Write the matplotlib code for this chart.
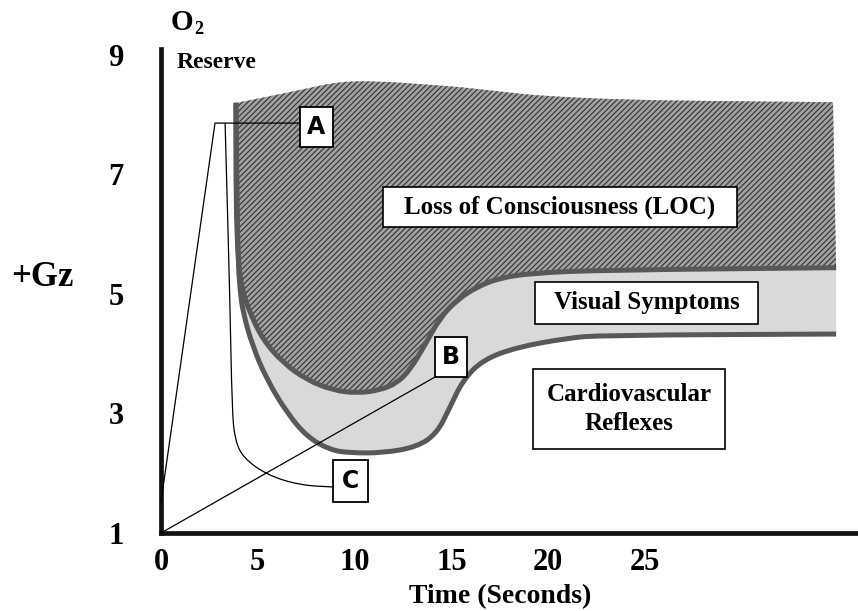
import matplotlib
matplotlib.use("Agg")
import matplotlib.pyplot as plt
from matplotlib.path import Path
from matplotlib.patches import PathPatch, Rectangle

# ---------------- data ----------------
x_ticks = [0, 5, 10, 15, 20, 25]
y_ticks = [1, 3, 5, 7, 9]

# upper threshold curve (LOC boundary)
loc_x = [3.87, 3.87, 3.98, 4.18, 4.60, 5.27, 6.30, 7.54, 8.88, 10.12, 11.31,
         12.19, 12.86, 13.64, 14.41, 15.29, 16.32, 17.51, 19.21, 22.68, 34.87]
loc_y = [8.20, 6.57, 5.57, 5.07, 4.68, 4.23, 3.85, 3.56, 3.39, 3.34, 3.39,
         3.51, 3.73, 4.15, 4.60, 4.90, 5.12, 5.27, 5.35, 5.40, 5.44]

# lower threshold curve (visual symptoms boundary)
vis_x = [3.87, 3.93, 3.98, 4.08, 4.24, 4.75, 5.48, 6.51, 7.54, 8.73, 9.76,
         11.47, 13.22, 14.26, 14.93, 15.60, 16.63, 18.39, 20.97, 22.68, 34.87]
vis_y = [8.20, 6.57, 5.57, 5.07, 4.68, 4.11, 3.56, 3.01, 2.61, 2.39, 2.34,
         2.34, 2.44, 2.67, 3.11, 3.56, 3.90, 4.11, 4.26, 4.31, 4.33]

# top edge of the LOC (hatched) zone
top_x = [3.93, 7.13, 9.25, 11.36, 13.48, 15.60, 17.72, 19.83, 24.07, 28.36, 34.71]
top_y = [8.20, 8.41, 8.56, 8.56, 8.51, 8.46, 8.38, 8.31, 8.25, 8.23, 8.21]

# leader lines
a_lead_x = [7.18, 2.79, 0.0]
a_lead_y = [7.86, 7.86, 1.52]
c_lead_x = [3.31, 3.56, 3.67, 3.82, 4.24, 5.48, 7.18, 8.88]
c_lead_y = [7.86, 4.90, 3.06, 2.56, 2.26, 1.97, 1.80, 1.77]
b_lead_x = [14.15, 0.0]
b_lead_y = [3.61, 1.0]

letters = ["A", "B", "C"]
letter_x = [8.03, 14.99, 9.79]
letter_y = [7.79, 3.95, 1.87]

zone_labels = ["Loss of Consciousness (LOC)", "Visual Symptoms", "Cardiovascular\nReflexes"]
zone_x = [20.61, 25.08, 24.17]
zone_y = [6.45, 4.85, 3.08]

# ---------------- drawing helpers ----------------
PXX = 19.36   # pixels per second
PXY = 59.75   # pixels per G


def smooth_path(xs, ys, start_code=Path.MOVETO):
    """Quadratic-spline path through midpoints, controlled by the points."""
    verts = [(xs[0], ys[0])]
    codes = [start_code]
    n = len(xs)
    if n > 2:
        verts.append(((xs[0] + xs[1]) / 2, (ys[0] + ys[1]) / 2))
        codes.append(Path.LINETO)
        for i in range(1, n - 1):
            verts.append((xs[i], ys[i]))
            verts.append(((xs[i] + xs[i + 1]) / 2, (ys[i] + ys[i + 1]) / 2))
            codes += [Path.CURVE3, Path.CURVE3]
    verts.append((xs[-1], ys[-1]))
    codes.append(Path.LINETO)
    return verts, codes


SERIF = ["Liberation Serif", "DejaVu Serif"]
plt.rcParams["hatch.linewidth"] = 0.9
plt.rcParams["hatch.color"] = "#3a3a3a"

fig = plt.figure(figsize=(8.58, 6.11), dpi=100)
ax = fig.add_axes([161 / 858, 78 / 611, 697 / 858, 484 / 611])
ax.set_xlim(0, 36)
ax.set_ylim(1, 9.1)

# LOC hatched zone
v1, c1 = smooth_path(loc_x, loc_y)
v2, c2 = smooth_path(top_x[::-1], top_y[::-1], start_code=Path.LINETO)
loc_patch = PathPatch(Path(v1 + v2 + [v1[0]], c1 + c2 + [Path.CLOSEPOLY]),
                      facecolor="#a2a2a2", edgecolor="#3a3a3a", hatch="//////",
                      linewidth=0, zorder=1)
ax.add_patch(loc_patch)

# visual symptoms zone
v3, c3 = smooth_path(vis_x[::-1], vis_y[::-1], start_code=Path.LINETO)
vis_patch = PathPatch(Path(v1 + v3 + [v1[0]], c1 + c3 + [Path.CLOSEPOLY]),
                      facecolor="#d9d9d9", edgecolor="none", zorder=1)
ax.add_patch(vis_patch)

# threshold curves
for xs, ys in [(loc_x, loc_y), (vis_x, vis_y)]:
    vv, cc = smooth_path(xs, ys)
    ax.add_patch(PathPatch(Path(vv, cc), facecolor="none", edgecolor="#585858",
                           linewidth=3.6, capstyle="butt", joinstyle="round",
                           zorder=3))

# leader lines
for lx, ly in [(a_lead_x, a_lead_y), (b_lead_x, b_lead_y)]:
    ax.plot(lx, ly, color="black", lw=0.9, zorder=4, clip_on=False)
vv, cc = smooth_path(c_lead_x, c_lead_y)
ax.add_patch(PathPatch(Path(vv, cc), facecolor="none", edgecolor="black",
                       linewidth=0.9, zorder=4))

# letter boxes
letter_w = [33, 32, 35]
letter_h = [40, 40, 42]
for t, lx, ly, w, h in zip(letters, letter_x, letter_y, letter_w, letter_h):
    wd, hd = w / PXX, h / PXY
    ax.add_patch(Rectangle((lx - wd / 2, ly - hd / 2), wd, hd, facecolor="white",
                           edgecolor="black", linewidth=1.3, zorder=5))
    ax.text(lx, ly, t, ha="center", va="center", fontsize=17,
            fontweight="bold", family="DejaVu Sans", zorder=6)

# zone labels
zone_w = [354, 223, 192]
zone_h = [40, 42, 80]
for t, lx, ly, w, h in zip(zone_labels, zone_x, zone_y, zone_w, zone_h):
    wd, hd = w / PXX, h / PXY
    ax.add_patch(Rectangle((lx - wd / 2, ly - hd / 2), wd, hd, facecolor="white",
                           edgecolor="black", linewidth=1.2, zorder=5))
    ax.text(lx, ly, t, ha="center", va="center", fontsize=18,
            fontweight="bold", family=SERIF, zorder=6, linespacing=1.35)

# axes styling
for s in ["top", "right"]:
    ax.spines[s].set_visible(False)
for s in ["left", "bottom"]:
    ax.spines[s].set_linewidth(3.4)
    ax.spines[s].set_color("#111111")
ax.set_xticks(x_ticks)
ax.set_yticks(y_ticks)
ax.set_xticklabels([str(v) for v in x_ticks], family=SERIF,
                   fontweight="bold", fontsize=22)
ax.set_yticklabels([str(v) for v in y_ticks], family=SERIF,
                   fontweight="bold", fontsize=22)
ax.tick_params(axis="x", length=0, pad=11)
ax.tick_params(axis="y", length=0, pad=27)

fig.text(500 / 858, 1 - 597 / 611, "Time (Seconds)", ha="center", va="center",
         fontsize=20, fontweight="bold", family=SERIF)
fig.text(42 / 858, 1 - 278 / 611, "+Gz", ha="center", va="center",
         fontsize=25, fontweight="bold", family=SERIF)
fig.text(171 / 858, 1 - 22 / 611, "O", ha="left", va="center",
         fontsize=21, fontweight="bold", family=SERIF)
fig.text(194 / 858, 1 - 29 / 611, "2", ha="left", va="center",
         fontsize=13, fontweight="bold", family=SERIF)
fig.text(177 / 858, 1 - 62 / 611, "Reserve", ha="left", va="center",
         fontsize=17, fontweight="bold", family=SERIF)

fig.savefig("out.png", dpi=100, facecolor="white")
